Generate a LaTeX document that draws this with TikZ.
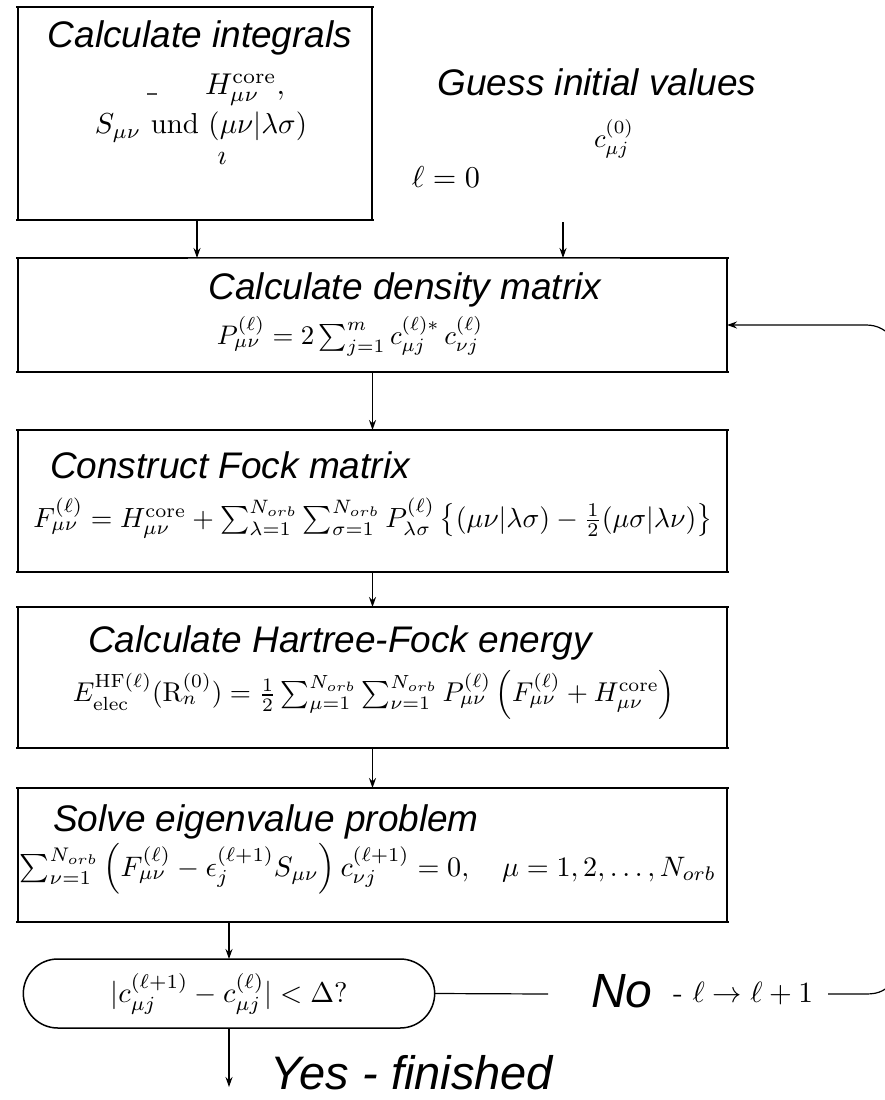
\documentclass[tikz,border=0pt]{standalone}
\usepackage{amsmath}
\usepackage[no-math]{fontspec}
\usepackage{graphicx}
\usetikzlibrary{arrows.meta,shapes.misc}
\newfontfamily\labfont{Liberation Sans}
\tikzset{
  box/.style={draw, line width=1.5pt, outer sep=0pt, inner sep=0pt},
  hl/.style={line width=2.6pt, shorten <=-2pt, shorten >=-2pt},
  arr/.style={line width=1.2pt, -{Stealth[length=10pt,width=7pt]}},
  conn/.style={line width=1.2pt},
  lab/.style={font=\labfont\itshape\fontsize{37}{44}\selectfont, inner sep=0pt},
  eq/.style={inner sep=0pt},
}
\begin{document}
\begin{tikzpicture}[x=1pt,y=-1pt]
\useasboundingbox (0,0) rectangle (885,1100);
\clip (0,0) rectangle (885,1100);
% boxes
\node[box, minimum width=354, minimum height=213] (int) at (195,113.5) {};
\node[box, minimum width=709, minimum height=114] (dens) at (372.5,315) {};
\node[box, minimum width=709, minimum height=142] (fock) at (372.5,501) {};
\node[box, minimum width=709, minimum height=141] (hf) at (372.5,677.5) {};
\node[box, minimum width=709, minimum height=134] (eig) at (372.5,855) {};
\node[draw, rounded rectangle, line width=1.5pt, outer sep=0pt, minimum width=418, minimum height=69] (cond) at (229,993.5) {};
% thick horizontal edges
\foreach \n in {int,fock,hf,eig}{
  \draw[hl] (\n.north west) -- (\n.north east);
  \draw[hl] (\n.south west) -- (\n.south east);
}
\draw[hl] (dens.south west) -- (dens.south east);
\draw[line width=2.6pt] ([xshift=-2pt]dens.north west) -- (dens.north west -| 188,0);
\draw[line width=2.6pt] (dens.north east -| 620,0) -- ([xshift=2pt]dens.north east);
\draw[line width=0.8pt, black!60] (dens.north west -| 188,0) -- (dens.north east -| 620,0);
% labels
\node[lab, anchor=base] (tint) at (200,47) {Calculate integrals};
\node[lab, anchor=base] (tguess) at (597,95) {Guess initial values};
\node[lab, anchor=base] (tdens) at (405,299) {Calculate density matrix};
\node[lab, anchor=base] (tfock) at (230,478) {Construct Fock matrix};
\node[lab, anchor=base] (thf) at (340,652) {Calculate Hartree-Fock energy};
\node[lab, anchor=base] (teig) at (266,831) {Solve eigenvalue problem};
\node[lab, anchor=base, font=\labfont\itshape\fontsize{48}{56}\selectfont] (tno) at (622,1007) {No};
\node[lab, anchor=base, font=\labfont\itshape\fontsize{47}{56}\selectfont] (tyes) at (412,1089) {Yes - finished};
% math in first box
\node[eq] (hcore) at (245,90) {\resizebox{80pt}{!}{$H^{\mathrm{core}}_{\mu\nu},$}};
\node[eq, text=black!70] (dash) at (152,94) {\resizebox{10pt}{1.2pt}{\rule{1pt}{1pt}}};
\node[eq] (sint) at (201,127) {\resizebox{212pt}{!}{$S_{\mu\nu}\ \mathrm{und}\ (\mu\nu|\lambda\sigma)$}};
\node[eq] (idot) at (222,158) {\resizebox{!}{12pt}{$\imath$}};
\node[eq] (c0) at (614,139) {\resizebox{40pt}{!}{$c^{(0)}_{\mu j}$}};
\node[eq] (l0) at (446,177) {\resizebox{68pt}{!}{$\ell=0$}};
% equations
\node[eq] (peq) at (350,336) {\resizebox{266pt}{!}{$P^{(\ell)}_{\mu\nu}=2\sum_{j=1}^{m} c^{(\ell)*}_{\mu j}\,c^{(\ell)}_{\nu j}$}};
\node[eq] (feq) at (373,518) {\resizebox{679pt}{!}{$F^{(\ell)}_{\mu\nu}=H^{\mathrm{core}}_{\mu\nu}+\sum_{\lambda=1}^{N_{orb}}\sum_{\sigma=1}^{N_{orb}}P^{(\ell)}_{\lambda\sigma}\left\{(\mu\nu|\lambda\sigma)-\tfrac{1}{2}(\mu\sigma|\lambda\nu)\right\}$}};
\node[eq] (eeq) at (374,695) {\resizebox{602pt}{!}{$E^{\mathrm{HF}(\ell)}_{\mathrm{elec}}(\mathrm{R}^{(0)}_{n})=\tfrac{1}{2}\sum_{\mu=1}^{N_{orb}}\sum_{\nu=1}^{N_{orb}}P^{(\ell)}_{\mu\nu}\left(F^{(\ell)}_{\mu\nu}+H^{\mathrm{core}}_{\mu\nu}\right)$}};
\node[eq] (seq) at (368,869) {\resizebox{696pt}{!}{$\sum_{\nu=1}^{N_{orb}}\left(F^{(\ell)}_{\mu\nu}-\epsilon^{(\ell+1)}_{j}S_{\mu\nu}\right)c^{(\ell+1)}_{\nu j}=0,\quad \mu=1,2,\ldots,N_{orb}$}};
\node[eq] (ceq) at (229,994) {\resizebox{237pt}{!}{$|c^{(\ell+1)}_{\mu j}-c^{(\ell)}_{\mu j}|<\Delta?$}};
\node[eq] (leq) at (743,994) {\resizebox{140pt}{!}{$\mbox{-}\ \ell\to\ell+1$}};
% connectors
\coordinate (g0) at (563,222);
\coordinate (noR) at (548,994);
\coordinate (lp1) at (828,994);
\coordinate (lp2) at (866,325);
\coordinate (fin) at (231,1087);
\draw[arr] (int.south -| 197,0) -- (dens.north -| 197,0);
\draw[arr] (g0) -- (g0 |- dens.north);
\draw[arr] (dens.south) -- (fock.north);
\draw[arr] (fock.south) -- (hf.north);
\draw[arr] (hf.south) -- (eig.north);
\draw[arr] (eig.south -| cond.north) -- (cond.north);
\draw[arr] (cond.south) -- (cond.south |- fin);
\draw[conn] (cond.east) -- (noR);
\draw[arr] (lp1) -- (866,994) .. controls (880,994) and (886,990) .. (895,980) -- (895,340) .. controls (886,330) and (878,325) .. (lp2) -- (dens.east |- lp2);
\end{tikzpicture}
\end{document}
